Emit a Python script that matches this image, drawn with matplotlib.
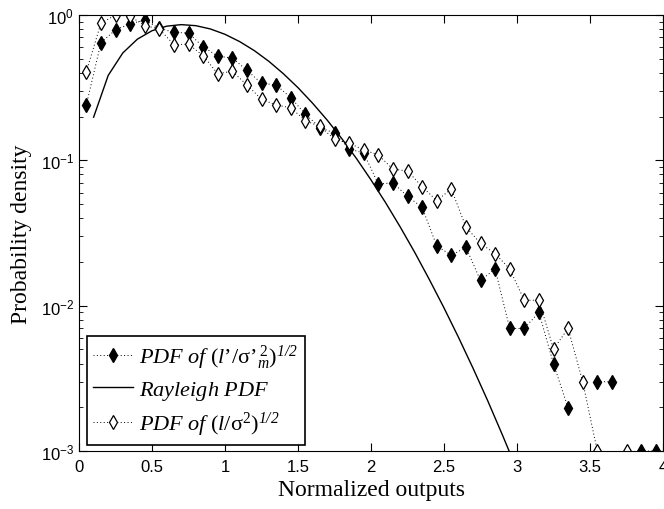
import matplotlib
matplotlib.use("Agg")
import matplotlib.pyplot as plt
import numpy as np

plt.rcParams['mathtext.fontset'] = 'custom'
plt.rcParams['mathtext.rm'] = 'Liberation Serif'
plt.rcParams['mathtext.it'] = 'Liberation Serif:italic'
plt.rcParams['mathtext.sf'] = 'Liberation Serif:italic'
plt.rcParams['mathtext.bf'] = 'Liberation Serif:bold'
plt.rcParams['font.family'] = ['Liberation Sans', 'DejaVu Sans']

# bin centres of the histograms
x_bins = np.arange(40) * 0.1 + 0.05

# PDF of (l'/sigma'^2_m)^(1/2)  (nan = empty bin)
pdf_m = [0.24, 0.645, 0.79, 0.87, 0.92, 0.81, 0.76, 0.75, 0.605, 0.52,
         0.506, 0.416, 0.339, 0.33, 0.27, 0.208, 0.168, 0.154, 0.12, 0.112,
         0.0687, 0.070, 0.0565, 0.0475, 0.0258, 0.0222, 0.0252, 0.0149, 0.0179, 0.00697,
         0.00697, 0.009, 0.00398, 0.00198, np.nan, 0.003, 0.003, np.nan, 0.001, 0.001]

# PDF of (l/sigma^2)^(1/2)
pdf_l = [0.407, 0.877, 1.0, 0.98, 0.845, 0.80, 0.625, 0.63, 0.525, 0.394,
         0.41, 0.33, 0.263, 0.24, 0.23, 0.1875, 0.171, 0.14, 0.131, 0.118,
         0.109, 0.087, 0.0844, 0.0659, 0.0528, 0.0635, 0.0348, 0.0268, 0.0228, 0.0179,
         0.0109, 0.0109, 0.00503, 0.00697, 0.003, 0.001, np.nan, 0.001, np.nan, np.nan]

# Rayleigh PDF curve
x_ray = [0.1, 0.2, 0.3, 0.4, 0.5, 0.6, 0.7, 0.8, 0.9, 1.0,
         1.1, 1.2, 1.3, 1.4, 1.5, 1.6, 1.7, 1.8, 1.9, 2.0,
         2.1, 2.2, 2.3, 2.4, 2.5, 2.6, 2.7, 2.8, 2.9, 3.0]
y_ray = [0.198, 0.384, 0.548, 0.682, 0.779, 0.837, 0.858, 0.844, 0.801, 0.736,
         0.656, 0.569, 0.480, 0.394, 0.316, 0.247, 0.189, 0.141, 0.103, 0.0733,
         0.0511, 0.0348, 0.0232, 0.0151, 0.00965, 0.00603, 0.00369, 0.00221, 0.00129, 0.00074]

fig = plt.figure(figsize=(6.64, 5.10), dpi=100)
ax = fig.add_axes([0.119, 0.1137, 0.8795, 0.855])

dots = (0, (1, 2.5))
ax.semilogy(x_bins, pdf_m, linestyle=dots, color='black', lw=0.7,
            marker='d', ms=7.5, mfc='black', mec='black',
            label=r"$\mathsf{PDF\ of}\ (\mathsf{l}\mathrm{’/\sigma’}^{\,2}_{\mathsf{m}})^{\mathsf{1/2}}$")
ax.semilogy(x_ray, y_ray, '-', color='black', lw=1.0, label=r"$\mathsf{Rayleigh\ PDF}$")
ax.semilogy(x_bins, pdf_l, linestyle=dots, color='black', lw=0.7,
            marker='d', ms=7.5, mfc='white', mec='black', mew=0.9,
            label=r"$\mathsf{PDF\ of}\ (\mathsf{l}\mathrm{/\sigma}^{2})^{\mathsf{1/2}}$")

ax.set_xlim(0, 4)
ax.set_ylim(1e-3, 1)
ax.set_xticks([0, 0.5, 1, 1.5, 2, 2.5, 3, 3.5, 4])
ax.set_xticklabels(['0', '0.5', '1', '1.5', '2', '2.5', '3', '3.5', '4'])
ax.tick_params(which='both', direction='in', top=True, right=True, labelsize=12)
ax.tick_params(which='major', length=6)
ax.tick_params(which='minor', length=3)
ax.tick_params(axis='x', pad=6)

ax.set_xlabel('Normalized outputs', family='Liberation Serif', fontsize=17, labelpad=3)
ax.set_ylabel('Probability density', family='Liberation Serif', fontsize=17, labelpad=6)

leg = ax.legend(loc='lower left', bbox_to_anchor=(0.013, 0.0145), borderaxespad=0,
                fancybox=False, framealpha=1, edgecolor='black', fontsize=16,
                handlelength=1.8, handletextpad=0.25, labelspacing=0.35,
                borderpad=0.3, numpoints=1)
leg.get_frame().set_linewidth(1.2)

fig.savefig('out.png', dpi=100)
